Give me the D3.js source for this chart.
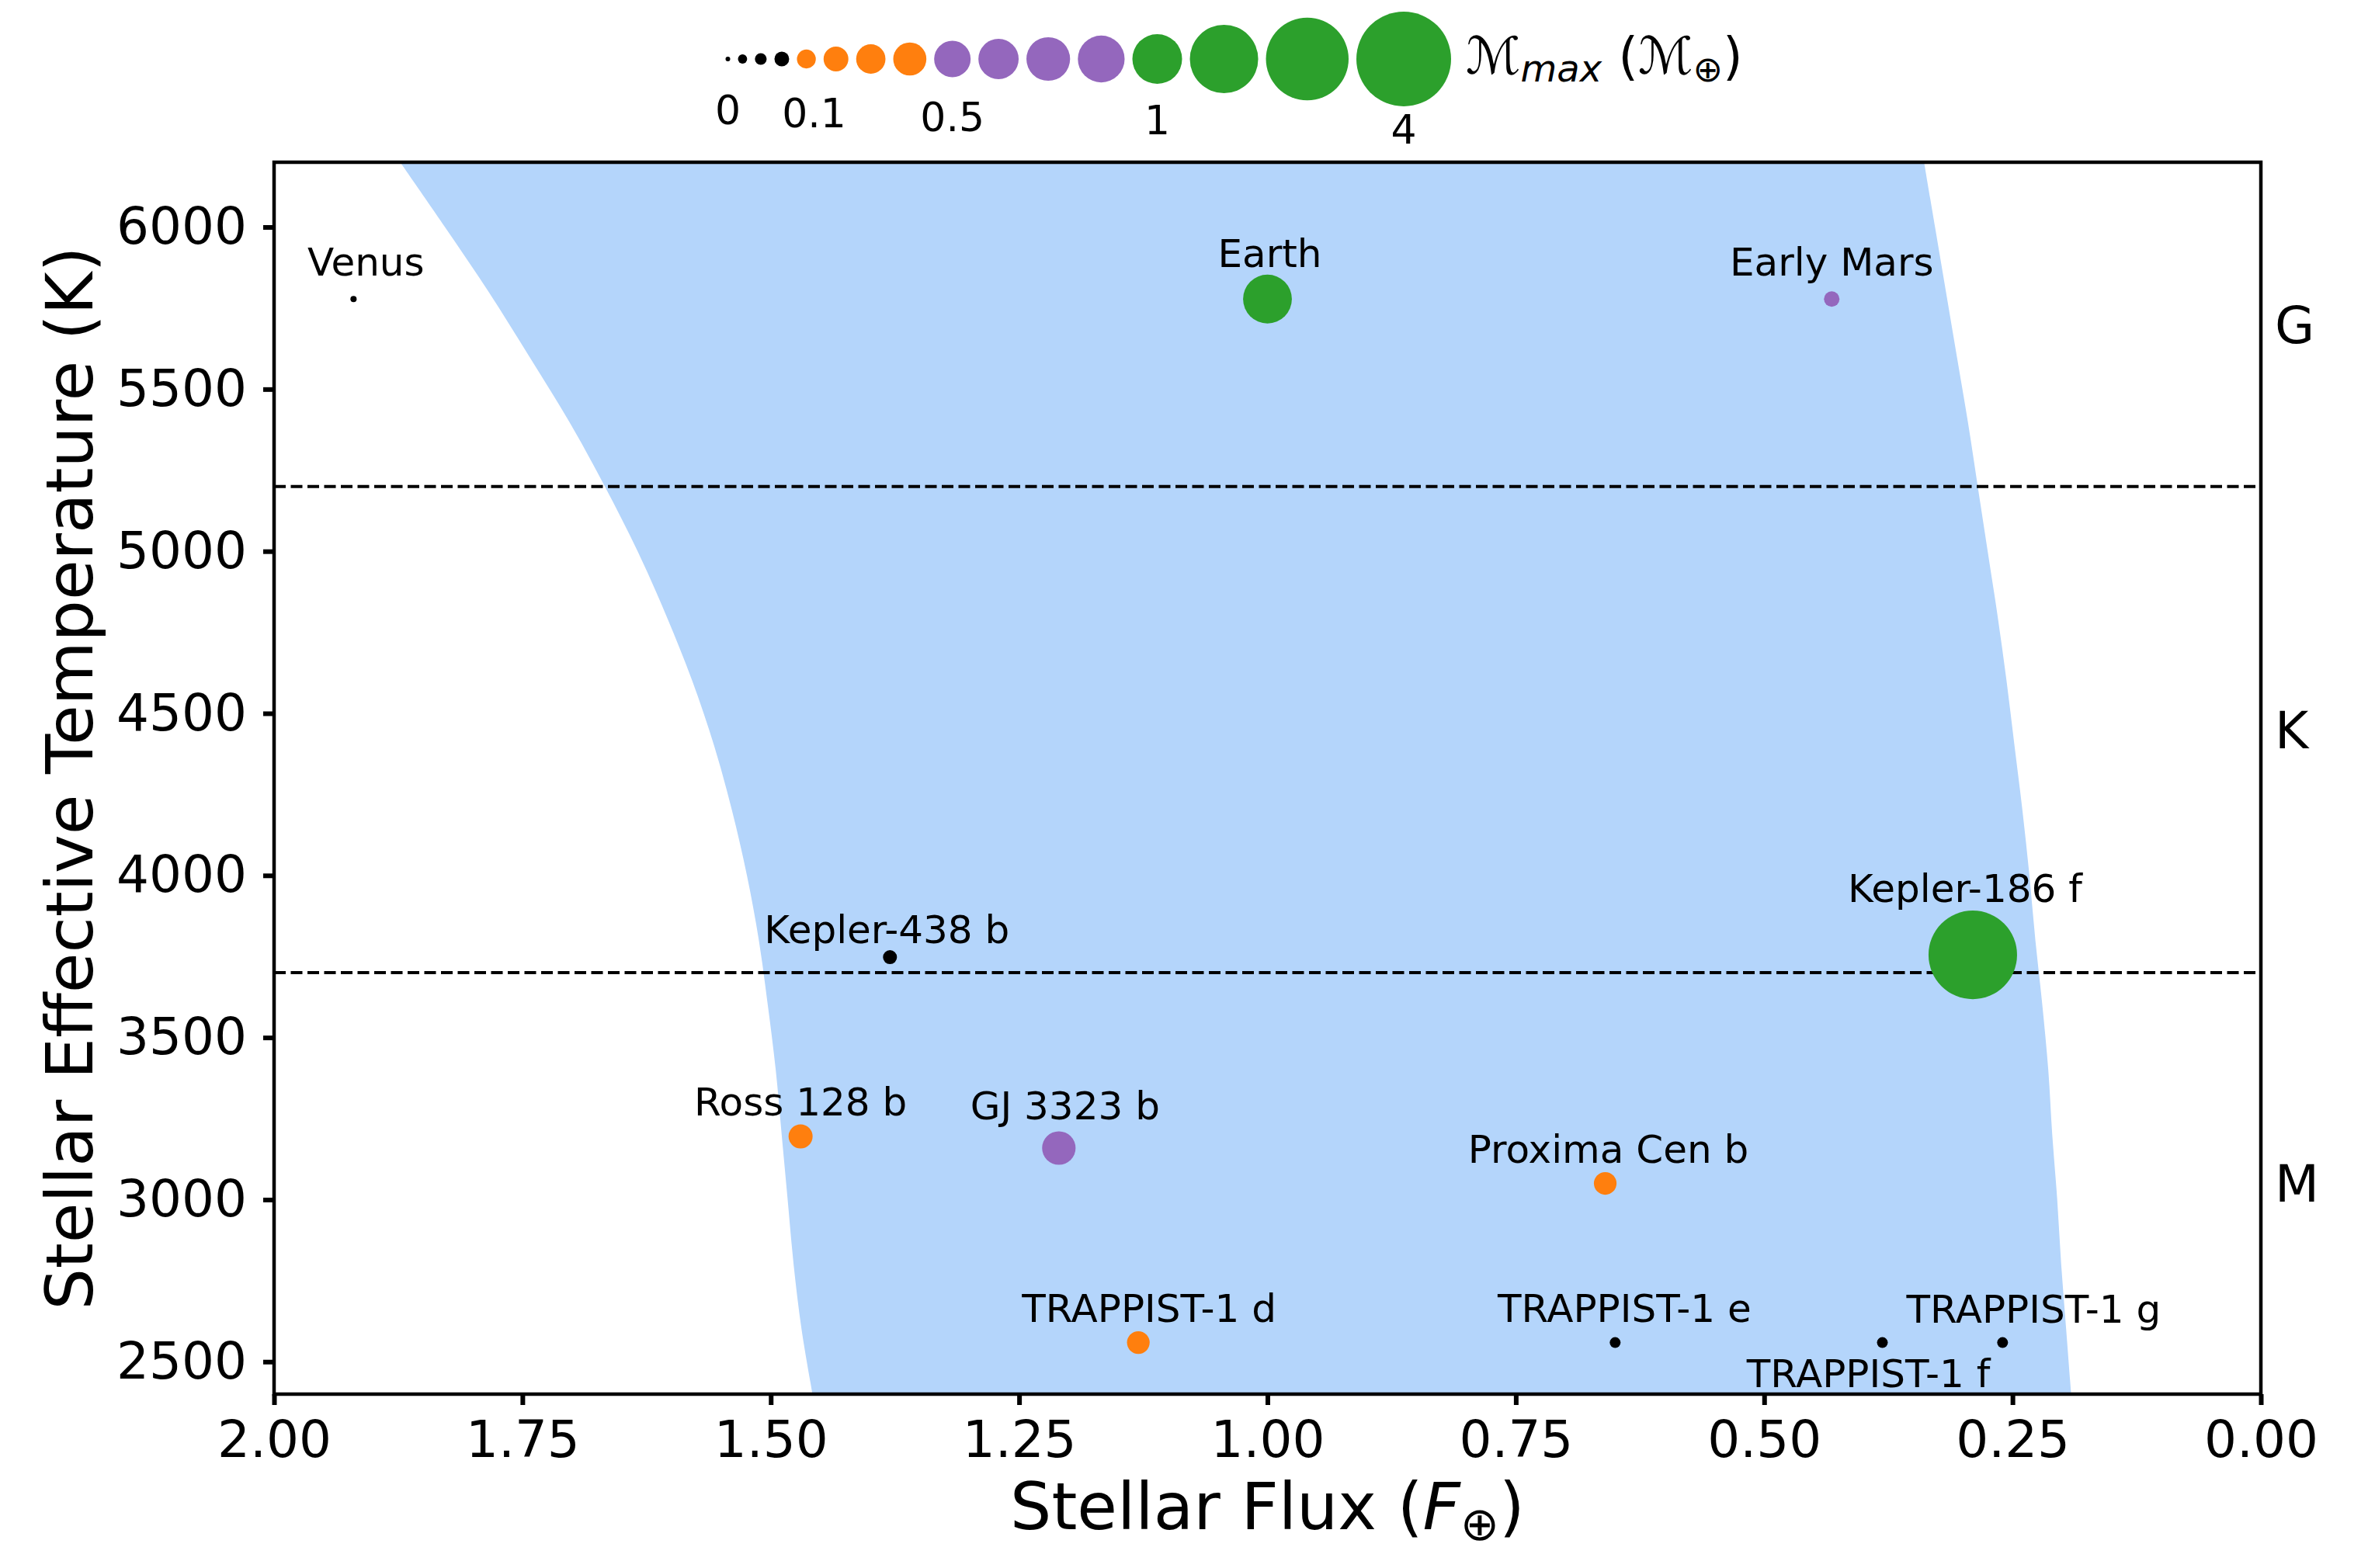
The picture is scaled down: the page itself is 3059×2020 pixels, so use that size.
<!DOCTYPE html>
<html>
<head>
<meta charset="utf-8">
<script src="https://cdn.jsdelivr.net/npm/d3@7"></script>
<style>
  body { margin: 0; background: #fff; }
  text { font-family: "DejaVu Sans", sans-serif; fill: #000; }
</style>
</head>
<body>
<svg id="chart" width="3059" height="2020"></svg>
<script>
// planets
const names = ["Venus", "Earth", "Early Mars", "Kepler-438 b", "Kepler-186 f", "Ross 128 b",
  "GJ 3323 b", "Proxima Cen b", "TRAPPIST-1 d", "TRAPPIST-1 e", "TRAPPIST-1 f", "TRAPPIST-1 g"];
const flux = [1.92, 1.0, 0.432, 1.38, 0.29, 1.47, 1.21, 0.66, 1.13, 0.65, 0.381, 0.26];
const teff = [5778, 5778, 5778, 3748, 3755, 3195, 3159, 3050, 2559, 2559, 2559, 2559];
const mmax = [0.0012, 0.96, 0.058, 0.043, 3.47, 0.186, 0.41, 0.16, 0.16, 0.019, 0.019, 0.019];
const group = [0, 3, 2, 0, 3, 1, 2, 1, 1, 0, 0, 0];

// habitable zone edges (recent Venus / early Mars)
const hzTeff = [2400, 2600, 2800, 3000, 3200, 3400, 3600, 3800, 4000, 4200,
  4400, 4600, 4800, 5000, 5200, 5400, 5600, 5800, 6000, 6200];
const hzInner = [1.458, 1.469, 1.477, 1.483, 1.489, 1.495, 1.503, 1.512, 1.524, 1.539,
  1.557, 1.579, 1.605, 1.634, 1.667, 1.703, 1.743, 1.784, 1.828, 1.873];
const hzOuter = [0.191, 0.196, 0.201, 0.205, 0.210, 0.214, 0.220, 0.227, 0.233, 0.240,
  0.248, 0.256, 0.265, 0.275, 0.285, 0.295, 0.306, 0.317, 0.328, 0.339];

// spectral classes
const classNames = ["G", "K", "M"];
const classEdges = [6200, 5200, 3700, 2400];

// size legend
const legendMass = [0, 0.01, 0.025, 0.05, 0.1, 0.2, 0.3, 0.4, 0.5, 0.625, 0.75, 0.875, 1, 2, 3, 4];
const legendGroup = [0, 0, 0, 0, 1, 1, 1, 1, 2, 2, 2, 2, 3, 3, 3, 3];
const legendTicks = [0, 0.1, 0.5, 1, 4];

const xTicks = [2, 1.75, 1.5, 1.25, 1, 0.75, 0.5, 0.25, 0];
const yTicks = [2500, 3000, 3500, 4000, 4500, 5000, 5500, 6000];

const groupColors = ["#000000", "#ff7f0e", "#9467bd", "#2ca02c"];

const svg = d3.select("#chart");
const m = { left: 353, right: 2912, top: 209, bottom: 1796 };

const x = d3.scaleLinear().domain([2, 0]).range([m.left, m.right]);
const y = d3.scaleLinear().domain([2400, 6200]).range([m.bottom, m.top]);
const size = d3.scaleSqrt().domain([0, 4]).range([0, 58]);
const radius = v => 3 + size(v);
const color = d3.scaleOrdinal().domain([0, 1, 2, 3]).range(groupColors);

svg.append("clipPath").attr("id", "plotclip")
  .append("rect")
  .attr("x", m.left).attr("y", m.top)
  .attr("width", m.right - m.left).attr("height", m.bottom - m.top);

const plot = svg.append("g").attr("clip-path", "url(#plotclip)");

// habitable zone band
const hz = hzTeff.map((t, i) => ({ t: t, inner: hzInner[i], outer: hzOuter[i] }));
plot.append("path")
  .datum(hz)
  .attr("fill", "#b4d5fb")
  .attr("d", d3.area()
    .y(d => y(d.t))
    .x0(d => x(d.inner))
    .x1(d => x(d.outer))
    .curve(d3.curveCatmullRom));

// class boundaries
plot.selectAll("line.bound")
  .data(classEdges.slice(1, -1))
  .enter().append("line")
  .attr("class", "bound")
  .attr("x1", m.left).attr("x2", m.right)
  .attr("y1", d => y(d)).attr("y2", d => y(d))
  .attr("stroke", "#000")
  .attr("stroke-width", 4)
  .attr("stroke-dasharray", "15,6.5");

// planets
const planets = names.map((n, i) => ({ name: n, flux: flux[i], teff: teff[i], m: mmax[i], g: group[i] }));

plot.selectAll("circle.planet")
  .data(planets)
  .enter().append("circle")
  .attr("class", "planet")
  .attr("cx", d => x(d.flux))
  .attr("cy", d => y(d.teff))
  .attr("r", d => radius(d.m))
  .attr("fill", d => color(d.g));

// label nudges in px: [dx, dy of baseline]
const nudge = {
  "Venus": [16, -30], "Earth": [3, -41], "Early Mars": [0, -30], "Kepler-438 b": [-4, -18],
  "Kepler-186 f": [-10, -68], "Ross 128 b": [0, -27], "GJ 3323 b": [8, -37],
  "Proxima Cen b": [4, -27], "TRAPPIST-1 d": [14, -27], "TRAPPIST-1 e": [12, -27],
  "TRAPPIST-1 f": [-18, 57], "TRAPPIST-1 g": [40, -26]
};

svg.selectAll("text.name")
  .data(planets)
  .enter().append("text")
  .attr("class", "name")
  .attr("x", d => x(d.flux) + nudge[d.name][0])
  .attr("y", d => y(d.teff) + nudge[d.name][1])
  .attr("text-anchor", "middle")
  .attr("font-size", 50)
  .text(d => d.name);

// axes
const xAxis = svg.append("g")
  .attr("transform", `translate(0,${m.bottom})`)
  .call(d3.axisBottom(x).tickValues(xTicks).tickFormat(d3.format(".2f")).tickSize(14).tickPadding(20));
const yAxis = svg.append("g")
  .attr("transform", `translate(${m.left},0)`)
  .call(d3.axisLeft(y).tickValues(yTicks).tickFormat(d3.format("d")).tickSize(14).tickPadding(21));

[xAxis, yAxis].forEach(a => {
  a.select(".domain").remove();
  a.selectAll(".tick line").attr("stroke", "#000").attr("stroke-width", 6);
  a.selectAll(".tick text").attr("font-size", 66).attr("font-family", "DejaVu Sans").attr("fill", "#000");
});

svg.append("rect")
  .attr("x", m.left).attr("y", m.top)
  .attr("width", m.right - m.left).attr("height", m.bottom - m.top)
  .attr("fill", "none")
  .attr("stroke", "#000")
  .attr("stroke-width", 4.5);

// spectral class letters
svg.selectAll("text.cls")
  .data(classNames)
  .enter().append("text")
  .attr("class", "cls")
  .attr("x", m.right + 18)
  .attr("y", (d, i) => y((classEdges[i] + classEdges[i + 1]) / 2))
  .attr("dy", "0.36em")
  .attr("font-size", 66)
  .text(d => d);

// axis titles
const xt = svg.append("text")
  .attr("x", (m.left + m.right) / 2)
  .attr("y", 1970)
  .attr("text-anchor", "middle")
  .attr("font-size", 84);
xt.append("tspan").text("Stellar Flux (");
xt.append("tspan").attr("font-style", "italic").text("F");
xt.append("tspan").attr("font-size", 60).attr("dy", 14).text("⊕");
xt.append("tspan").attr("dy", -14).text(")");

svg.append("text")
  .attr("transform", `translate(119,${(m.top + m.bottom) / 2}) rotate(-90)`)
  .attr("text-anchor", "middle")
  .attr("font-size", 84)
  .text("Stellar Effective Temperature (K)");

// size legend
const legendY = 76;
const gap = 10;
let cx = 937.5;
const legendItems = legendMass.map((v, i) => {
  if (i > 0) cx += radius(legendMass[i - 1]) + radius(v) + gap;
  return { m: v, g: legendGroup[i], x: cx };
});

const legend = svg.append("g");
legend.selectAll("circle")
  .data(legendItems)
  .enter().append("circle")
  .attr("cx", d => d.x)
  .attr("cy", legendY)
  .attr("r", d => radius(d.m))
  .attr("fill", d => color(d.g));

legend.selectAll("text.tick")
  .data(legendItems.filter(d => legendTicks.includes(d.m)))
  .enter().append("text")
  .attr("class", "tick")
  .attr("x", d => d.x + (d.m === 0.1 ? 10 : 0))
  .attr("y", d => legendY + 83 + 0.43 * radius(d.m))
  .attr("text-anchor", "middle")
  .attr("font-size", 52)
  .text(d => d.m);

const last = legendItems[legendItems.length - 1];
const lt = legend.append("text")
  .attr("x", last.x + radius(last.m) + 19)
  .attr("y", 95)
  .attr("font-size", 66);
lt.append("tspan").text("ℳ");
lt.append("tspan").attr("font-style", "italic").attr("font-size", 48).attr("dy", 10).text("max");
lt.append("tspan").attr("dy", -10).text(" (ℳ");
lt.append("tspan").attr("font-size", 46).attr("dy", 10).text("⊕");
lt.append("tspan").attr("dy", -10).text(")");
</script>
</body>
</html>
